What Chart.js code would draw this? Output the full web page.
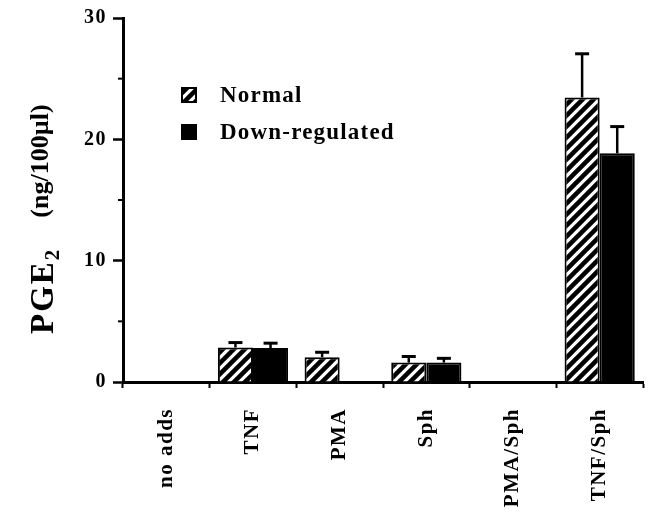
<!DOCTYPE html>
<html>
<head>
<meta charset="utf-8">
<script src="https://cdn.jsdelivr.net/npm/chart.js@4"></script>
<style>
  html, body { margin: 0; padding: 0; background: #fff; }
  #wrap { width: 652px; height: 518px; }
</style>
</head>
<body>
<div id="wrap"><canvas id="chart"></canvas></div>
<script>
const categories = ["no adds", "TNF", "PMA", "Sph", "PMA/Sph", "TNF/Sph"];
const normalValues = [0, 2.85, 2.05, 1.6, 0, 23.45];
const normalErrors = [0, 0.4, 0.4, 0.5, 0, 3.6];
const downValues = [0, 2.8, 0, 1.6, 0, 18.85];
const downErrors = [0, 0.4, 0, 0.35, 0, 2.2];
const yTicks = [0, 10, 20, 30];
const yMinorTicks = [5, 15, 25];

const serif = "'Liberation Serif', 'Times New Roman', serif";

// diagonal "/" hatch used for the Normal bars
function makeHatch() {
  const size = 11;
  const c = document.createElement("canvas");
  c.width = size;
  c.height = size;
  const g = c.getContext("2d");
  g.fillStyle = "#fff";
  g.fillRect(0, 0, size, size);
  g.strokeStyle = "#000";
  g.lineWidth = 4.5;
  g.beginPath();
  g.moveTo(0, size); g.lineTo(size, 0);
  g.moveTo(-size / 2, size / 2); g.lineTo(size / 2, -size / 2);
  g.moveTo(size / 2, size * 1.5); g.lineTo(size * 1.5, size / 2);
  g.stroke();
  return g.createPattern(c, "repeat");
}
const hatch = makeHatch();

const spacing = {
  id: "spacing",
  beforeDraw(chart) {
    chart.ctx.letterSpacing = "1.5px";
  }
};

const errorBars = {
  id: "errorBars",
  afterDatasetsDraw(chart) {
    const ctx = chart.ctx;
    const y = chart.scales.y;
    chart.data.datasets.forEach((ds, i) => {
      const meta = chart.getDatasetMeta(i);
      meta.data.forEach((bar, j) => {
        const err = ds.errors[j];
        if (!err) return;
        const top = y.getPixelForValue(ds.data[j] + err);
        ctx.save();
        ctx.strokeStyle = "#000";
        ctx.lineWidth = 2.5;
        ctx.beginPath();
        ctx.moveTo(bar.x, bar.y);
        ctx.lineTo(bar.x, top);
        ctx.stroke();
        ctx.lineWidth = 3;
        ctx.beginPath();
        ctx.moveTo(bar.x - 7, top);
        ctx.lineTo(bar.x + 7, top);
        ctx.stroke();
        ctx.restore();
      });
    });
  }
};

const minorTicks = {
  id: "minorTicks",
  afterDraw(chart) {
    const ctx = chart.ctx;
    const y = chart.scales.y;
    const left = chart.chartArea.left;
    ctx.save();
    ctx.strokeStyle = "#000";
    ctx.lineWidth = 2;
    yMinorTicks.forEach(v => {
      const py = y.getPixelForValue(v);
      ctx.beginPath();
      ctx.moveTo(left - 5, py);
      ctx.lineTo(left, py);
      ctx.stroke();
    });
    ctx.restore();
  }
};

const insideLegend = {
  id: "insideLegend",
  afterDraw(chart) {
    const ctx = chart.ctx;
    ctx.save();
    ctx.letterSpacing = "1.2px";
    ctx.font = "bold 23px " + serif;
    ctx.textBaseline = "middle";
    chart.data.datasets.forEach((ds, i) => {
      const by = 88 + i * 37;
      ctx.fillStyle = ds.backgroundColor;
      ctx.fillRect(182, by, 14, 14);
      ctx.strokeStyle = "#000";
      ctx.lineWidth = 2;
      ctx.strokeRect(182, by, 14, 14);
      ctx.fillStyle = "#000";
      ctx.fillText(ds.label, 220, by + 8);
    });
    ctx.restore();
  }
};

const yTitle = {
  id: "yTitle",
  afterDraw(chart) {
    const ctx = chart.ctx;
    ctx.save();
    ctx.translate(44, 334);
    ctx.rotate(-Math.PI / 2);
    ctx.fillStyle = "#000";
    ctx.textBaseline = "middle";
    ctx.letterSpacing = "2px";
    ctx.font = "bold 33px " + serif;
    ctx.fillText("PGE", 0, 0);
    let x = ctx.measureText("PGE").width;
    ctx.letterSpacing = "0px";
    ctx.font = "bold 21px " + serif;
    ctx.fillText("2", x, 10);
    x += ctx.measureText("2").width + 32;
    ctx.font = "bold 26px " + serif;
    ctx.fillText("(ng/100\u00b5l)", x, -3);
    ctx.restore();
  }
};

new Chart(document.getElementById("chart"), {
  type: "bar",
  data: {
    labels: categories,
    datasets: [
      {
        label: "Normal",
        data: normalValues,
        errors: normalErrors,
        backgroundColor: hatch,
        borderColor: "#000",
        borderWidth: 2,
        borderSkipped: "bottom"
      },
      {
        label: "Down-regulated",
        data: downValues,
        errors: downErrors,
        backgroundColor: "#000",
        borderColor: "#000",
        borderWidth: 2,
        borderSkipped: "bottom"
      }
    ]
  },
  options: {
    responsive: true,
    maintainAspectRatio: false,
    animation: false,
    layout: { padding: { top: 17, right: 9, left: 0, bottom: 0 } },
    datasets: { bar: { categoryPercentage: 0.81, barPercentage: 1.0 } },
    plugins: {
      legend: { display: false },
      tooltip: { enabled: false }
    },
    scales: {
      x: {
        afterFit: scale => { scale.height = 136; },
        border: { color: "#000", width: 3 },
        grid: { drawOnChartArea: false, color: "#000", tickLength: 6, tickWidth: 2 },
        ticks: {
          color: "#000",
          minRotation: 90,
          maxRotation: 90,
          padding: 20,
          autoSkip: false,
          font: { family: serif, weight: "bold", size: 21 }
        }
      },
      y: {
        min: 0,
        max: 30,
        afterFit: scale => { scale.width = 123; },
        afterBuildTicks: scale => { scale.ticks = yTicks.map(v => ({ value: v })); },
        border: { color: "#000", width: 3 },
        grid: { drawOnChartArea: false, color: "#000", tickLength: 10, tickWidth: 2.5 },
        ticks: {
          color: "#000",
          padding: 6,
          font: { family: serif, weight: "bold", size: 20 }
        }
      }
    }
  },
  plugins: [spacing, errorBars, minorTicks, insideLegend, yTitle]
});
</script>
</body>
</html>
